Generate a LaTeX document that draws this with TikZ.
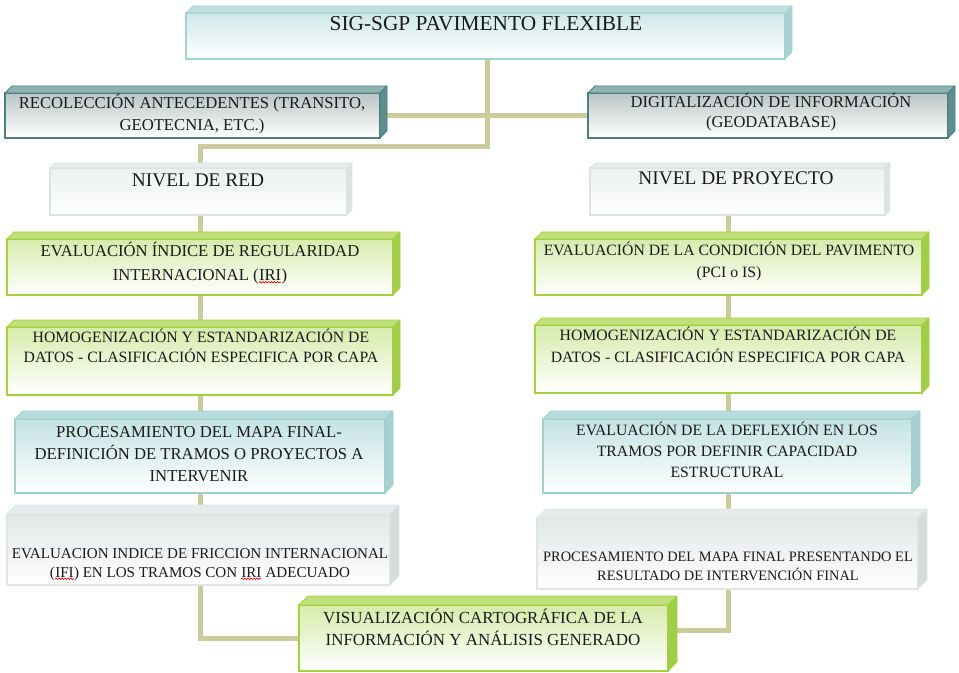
\documentclass[tikz,border=0pt]{standalone}
\usepackage{fontspec}
\setmainfont{Liberation Serif}
\usetikzlibrary{backgrounds,decorations.pathmorphing,calc}

% palette
\definecolor{linkc}{HTML}{CBCB9C}
\definecolor{inkc}{HTML}{1A1A1A}
% pale teal (title)
\definecolor{ftealF}{HTML}{D0E8E8}\definecolor{ftealB}{HTML}{A5D2D2}
\definecolor{ftealT}{HTML}{C0DFDF}\definecolor{ftealS}{HTML}{A9D3D3}
% dark teal
\definecolor{dtealF}{HTML}{BAC5C5}\definecolor{dtealB}{HTML}{4D7F80}
\definecolor{dtealT}{HTML}{8FB3B3}\definecolor{dtealS}{HTML}{5F8E8F}
% level boxes
\definecolor{nivelF}{HTML}{EBF0F0}\definecolor{nivelB}{HTML}{DCE3E3}
\definecolor{nivelT}{HTML}{E6EBEB}\definecolor{nivelS}{HTML}{DDE3E3}
% green
\definecolor{verdeF}{HTML}{D6EBAB}\definecolor{verdeB}{HTML}{A3D23F}
\definecolor{verdeT}{HTML}{BFE07A}\definecolor{verdeS}{HTML}{A2CD48}
% teal
\definecolor{ctealF}{HTML}{C4E3E3}\definecolor{ctealB}{HTML}{9FCFCF}
\definecolor{ctealT}{HTML}{B8DCDC}\definecolor{ctealS}{HTML}{A5D1D1}
% grey
\definecolor{grisF}{HTML}{E2E7E7}\definecolor{grisB}{HTML}{E0E5E5}
\definecolor{grisT}{HTML}{E6EBEB}\definecolor{grisS}{HTML}{D5DCDC}

\tikzset{
  boxbase/.style={anchor=north west, inner sep=0pt, outer sep=0pt, line width=1pt},
  fteal/.style={boxbase, draw=ftealB, top color=ftealF, bottom color=white},
  dteal/.style={boxbase, draw=dtealB, top color=dtealF, bottom color=white},
  nivel/.style={boxbase, draw=nivelB, top color=nivelF, bottom color=white},
  verde/.style={boxbase, draw=verdeB, top color=verdeF, bottom color=white},
  cteal/.style={boxbase, draw=ctealB, top color=ctealF, bottom color=white!98!ctealF},
  gris/.style={boxbase, draw=grisB, top color=grisF, bottom color=white!97!grisF},
  fteal-top/.style={fill=ftealT, draw=ftealB},  fteal-side/.style={fill=ftealS, draw=ftealB},
  dteal-top/.style={fill=dtealT, draw=dtealB},  dteal-side/.style={fill=dtealS, draw=dtealB},
  nivel-top/.style={fill=nivelT, draw=nivelB},  nivel-side/.style={fill=nivelS, draw=nivelB},
  verde-top/.style={fill=verdeT, draw=verdeB},  verde-side/.style={fill=verdeS, draw=verdeB},
  cteal-top/.style={fill=ctealT, draw=ctealB},  cteal-side/.style={fill=ctealS, draw=ctealB},
  gris-top/.style={fill=grisT, draw=grisB},     gris-side/.style={fill=grisS, draw=grisB},
  link/.style={draw=linkc, line width=3.75pt},
  % text blocks are placed by the baseline of their last line
  txt/.style={anchor=base, inner sep=0pt, align=center, text=inkc},
}

% a box with its front face as a named node plus top and right bevel faces
% #1 name, #2 x1, #3 y1, #4 x2, #5 y2, #6 depth, #7 kind
\newcommand\cube[7]{%
  \node[#7, minimum width={(#4-#2)*0.75pt}, minimum height={(#5-#3)*0.75pt}] (#1) at (#2,#3) {};
  \path[#7-top, line width=0.6pt, line join=round] (#1.north west) -- ++(#6,-#6)
     -- ([shift={(#6,-#6)}]#1.north east) -- (#1.north east) -- cycle;
  \path[#7-side, line width=0.6pt, line join=round] (#1.north east) -- ++(#6,-#6)
     -- ([shift={(#6,-#6)}]#1.south east) -- (#1.south east) -- cycle;
}

% red spell-check squiggle under a word
\newcommand\spellmark[1]{\tikz[baseline=(sw.base)]{\node[inner sep=0pt, outer sep=0pt] (sw) {#1};
  \draw[red!90!black, line width=0.5pt, decorate, decoration={snake, amplitude=0.55pt, segment length=2.2pt}]
    ([yshift=-1.3pt]sw.south west) -- ([yshift=-1.3pt]sw.south east);}}

\begin{document}
\begin{tikzpicture}[x=0.75pt, y=-0.75pt]
\useasboundingbox (0,0) rectangle (959,673);

% boxes
\cube{top}{186}{13}{785}{59}{7}{fteal}
\cube{rec}{5}{93}{380}{138}{7}{dteal}
\cube{dig}{588}{93}{948}{138}{7}{dteal}
\cube{red}{50}{168}{347}{215}{5}{nivel}
\cube{proy}{590}{168}{885}{215}{5}{nivel}
\cube{iri}{7}{239}{393}{295}{7}{verde}
\cube{homL}{7}{327}{393}{395}{7}{verde}
\cube{procL}{15}{419}{385}{493}{8}{cteal}
\cube{ifi}{7}{514}{390}{585}{9}{gris}
\cube{cond}{535}{239}{922}{295}{7}{verde}
\cube{homR}{535}{325}{922}{393}{7}{verde}
\cube{defl}{543}{419}{912}{493}{8}{cteal}
\cube{pfin}{537}{518}{918}{589}{9}{gris}
\cube{vis}{299}{605}{668}{671}{9}{verde}

% texts
\node[txt, font={\fontsize{16}{19}\selectfont}] (top-t) at (486,31) {SIG-SGP PAVIMENTO FLEXIBLE};
\node[txt, font={\fontsize{12.5}{16.5}\selectfont}] (rec-t) at (192,130.5)
  {RECOLECCIÓN ANTECEDENTES (TRANSITO,\\GEOTECNIA, ETC.)};
\node[txt, font={\fontsize{12.4}{15}\selectfont}] (dig-t) at (771,127.5)
  {DIGITALIZACIÓN DE INFORMACIÓN\\(GEODATABASE)};
\node[txt, font={\fontsize{14.5}{17}\selectfont}] (red-t) at (198,186.4) {NIVEL DE RED};
\node[txt, font={\fontsize{14.5}{17}\selectfont}] (proy-t) at (736,184.4) {NIVEL DE PROYECTO};
\node[txt, font={\fontsize{12.5}{18}\selectfont}] (iri-t) at (200,280.5)
  {EVALUACIÓN ÍNDICE DE REGULARIDAD\\INTERNACIONAL (\spellmark{IRI})};
\node[txt, font={\fontsize{11.8}{15}\selectfont}] (homL-t) at (201,362.2)
  {HOMOGENIZACIÓN Y ESTANDARIZACIÓN DE\\DATOS - CLASIFICACIÓN ESPECIFICA POR CAPA};
\node[txt, font={\fontsize{12.5}{16.5}\selectfont}] (procL-t) at (199,481.5)
  {PROCESAMIENTO DEL MAPA FINAL-\\DEFINICIÓN DE TRAMOS O PROYECTOS A\\INTERVENIR};
\node[txt, font={\fontsize{11.3}{14.25}\selectfont}] (ifi-t) at (200,577)
  {EVALUACION INDICE DE FRICCION INTERNACIONAL\\(\spellmark{IFI}) EN LOS TRAMOS CON \spellmark{IRI} ADECUADO};
\node[txt, font={\fontsize{11.8}{16.5}\selectfont}] (cond-t) at (729,277.2)
  {EVALUACIÓN DE LA CONDICIÓN DEL PAVIMENTO\\(PCI o IS)};
\node[txt, font={\fontsize{11.8}{16.5}\selectfont}] (homR-t) at (728,362.2)
  {HOMOGENIZACIÓN Y ESTANDARIZACIÓN DE\\DATOS - CLASIFICACIÓN ESPECIFICA POR CAPA};
\node[txt, font={\fontsize{11.8}{16}\selectfont}] (defl-t) at (727,477.9)
  {EVALUACIÓN DE LA DEFLEXIÓN EN LOS\\TRAMOS POR DEFINIR CAPACIDAD\\ESTRUCTURAL};
\node[txt, font={\fontsize{10.8}{14.25}\selectfont}] (pfin-t) at (728,580.8)
  {PROCESAMIENTO DEL MAPA FINAL PRESENTANDO EL\\RESULTADO DE INTERVENCIÓN FINAL};
\node[txt, font={\fontsize{12.7}{16.5}\selectfont}] (vis-t) at (483,645.6)
  {VISUALIZACIÓN CARTOGRÁFICA DE LA\\INFORMACIÓN Y ANÁLISIS GENERADO};

% connectors, kept behind the boxes
\coordinate (colL) at (200,0);
\coordinate (colR) at (728,0);
\coordinate (hub) at (487,147);
\begin{scope}[on background layer]
  \draw[link] (top.south -| hub) -- (hub) -| (colL |- red.north);
  \draw[link] (rec.east) -- (dig.west);
  \draw[link] (colL |- red.south) -- (colL |- iri.north);
  \draw[link] (colL |- iri.south) -- (colL |- homL.north);
  \draw[link] (colL |- homL.south) -- (colL |- procL.north);
  \draw[link] (colL |- procL.south) -- (colL |- ifi.north);
  \draw[link] (colL |- ifi.south) |- (vis.west);
  \draw[link] (colR |- proy.south) -- (colR |- cond.north);
  \draw[link] (colR |- cond.south) -- (colR |- homR.north);
  \draw[link] (colR |- homR.south) -- (colR |- defl.north);
  \draw[link] (colR |- defl.south) -- (colR |- pfin.north);
  \draw[link] (colR |- pfin.south) |- ([yshift=6pt]vis.east);
\end{scope}
\end{tikzpicture}
\end{document}
